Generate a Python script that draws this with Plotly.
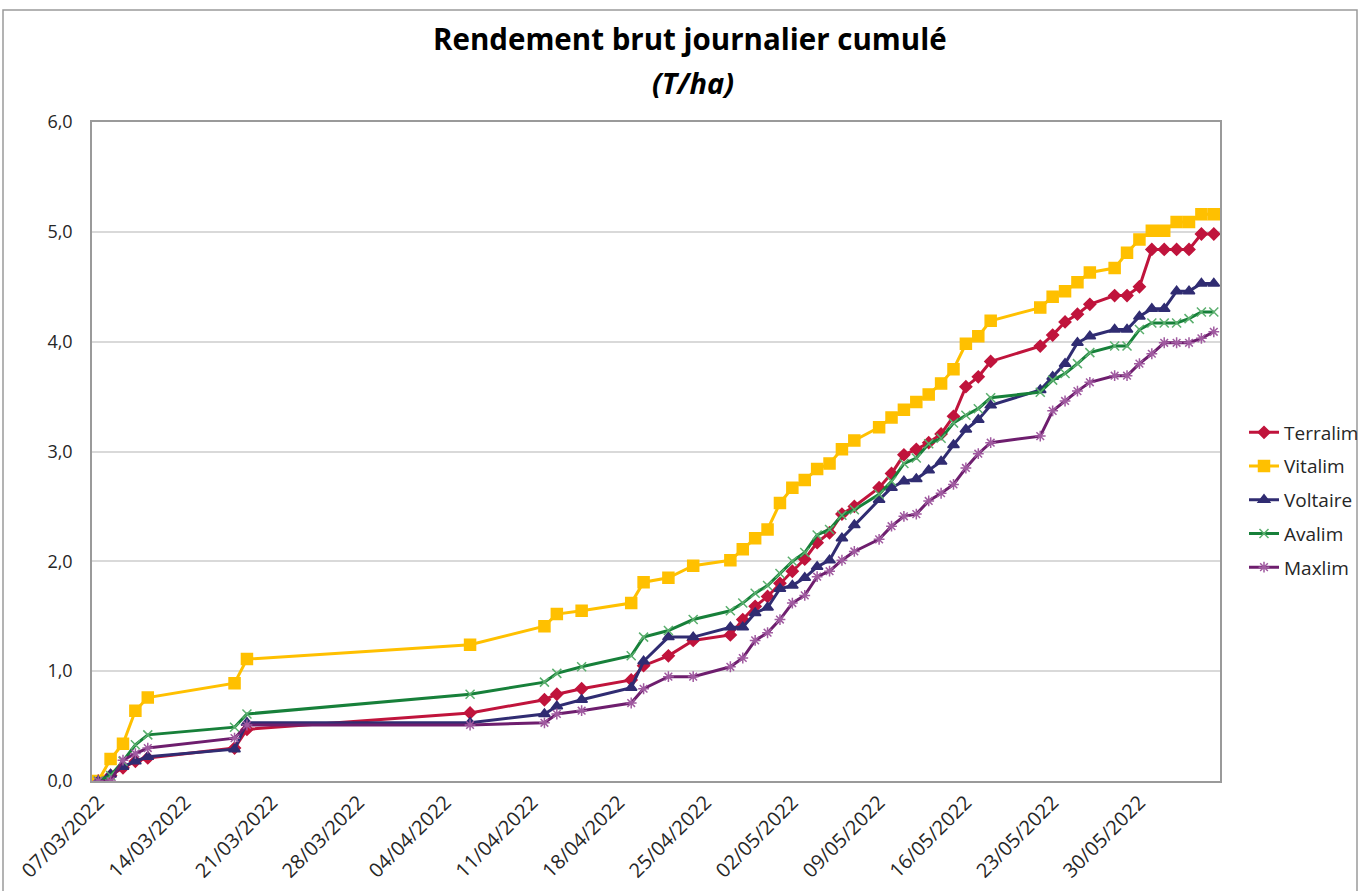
import plotly.graph_objects as go

dates = ["2022-03-07", "2022-03-08", "2022-03-09", "2022-03-10", "2022-03-11", "2022-03-18", "2022-03-19",
         "2022-04-06", "2022-04-12", "2022-04-13", "2022-04-15", "2022-04-19", "2022-04-20", "2022-04-22",
         "2022-04-24", "2022-04-27", "2022-04-28", "2022-04-29", "2022-04-30", "2022-05-01", "2022-05-02",
         "2022-05-03", "2022-05-04", "2022-05-05", "2022-05-06", "2022-05-07", "2022-05-09", "2022-05-10",
         "2022-05-11", "2022-05-12", "2022-05-13", "2022-05-14", "2022-05-15", "2022-05-16", "2022-05-17",
         "2022-05-18", "2022-05-22", "2022-05-23", "2022-05-24", "2022-05-25", "2022-05-26", "2022-05-28",
         "2022-05-29", "2022-05-30", "2022-05-31", "2022-06-01", "2022-06-02", "2022-06-03", "2022-06-04",
         "2022-06-05"]

terralim = [0, 0.05, 0.12, 0.18, 0.21, 0.30, 0.47, 0.62, 0.74, 0.79, 0.84, 0.92, 1.05, 1.14, 1.28,
            1.33, 1.47, 1.59, 1.68, 1.80, 1.91, 2.02, 2.17, 2.26, 2.43, 2.50, 2.67, 2.80, 2.97, 3.02,
            3.08, 3.16, 3.32, 3.59, 3.68, 3.82, 3.96, 4.06, 4.18, 4.25, 4.34, 4.42, 4.42, 4.50, 4.84,
            4.84, 4.84, 4.84, 4.98, 4.98]
vitalim = [0, 0.20, 0.34, 0.64, 0.76, 0.89, 1.11, 1.24, 1.41, 1.52, 1.55, 1.62, 1.81, 1.85, 1.96,
           2.01, 2.11, 2.21, 2.29, 2.53, 2.67, 2.74, 2.84, 2.89, 3.02, 3.10, 3.22, 3.31, 3.38, 3.45,
           3.52, 3.62, 3.75, 3.98, 4.05, 4.19, 4.31, 4.41, 4.46, 4.54, 4.63, 4.67, 4.81, 4.93, 5.01,
           5.01, 5.09, 5.09, 5.16, 5.16]
voltaire = [0, 0.06, 0.13, 0.18, 0.22, 0.29, 0.53, 0.53, 0.61, 0.68, 0.74, 0.85, 1.09, 1.31, 1.31,
            1.40, 1.40, 1.53, 1.58, 1.75, 1.78, 1.85, 1.95, 2.01, 2.21, 2.33, 2.56, 2.67, 2.73, 2.75,
            2.83, 2.91, 3.06, 3.20, 3.29, 3.42, 3.56, 3.68, 3.80, 3.99, 4.05, 4.11, 4.11, 4.23, 4.30,
            4.30, 4.46, 4.46, 4.53, 4.53]
avalim = [0, 0.05, 0.18, 0.33, 0.42, 0.49, 0.61, 0.79, 0.90, 0.98, 1.04, 1.14, 1.31, 1.37, 1.47,
          1.55, 1.62, 1.71, 1.78, 1.89, 2.00, 2.08, 2.24, 2.29, 2.42, 2.47, 2.61, 2.73, 2.89, 2.94,
          3.07, 3.12, 3.26, 3.33, 3.39, 3.49, 3.54, 3.65, 3.71, 3.80, 3.90, 3.96, 3.96, 4.11, 4.17,
          4.17, 4.17, 4.21, 4.27, 4.27]
maxlim = [0, 0, 0.19, 0.25, 0.30, 0.39, 0.51, 0.51, 0.53, 0.61, 0.64, 0.71, 0.84, 0.95, 0.95,
          1.04, 1.12, 1.28, 1.35, 1.47, 1.62, 1.69, 1.86, 1.91, 2.01, 2.09, 2.20, 2.32, 2.41, 2.43,
          2.55, 2.62, 2.70, 2.85, 2.98, 3.08, 3.14, 3.37, 3.46, 3.55, 3.63, 3.69, 3.69, 3.80, 3.89,
          3.99, 3.99, 3.99, 4.03, 4.09]

tick_dates = ["2022-03-07", "2022-03-14", "2022-03-21", "2022-03-28", "2022-04-04", "2022-04-11",
              "2022-04-18", "2022-04-25", "2022-05-02", "2022-05-09", "2022-05-16", "2022-05-23",
              "2022-05-30"]
tick_labels = ["07/03/2022", "14/03/2022", "21/03/2022", "28/03/2022", "04/04/2022", "11/04/2022",
               "18/04/2022", "25/04/2022", "02/05/2022", "09/05/2022", "16/05/2022", "23/05/2022",
               "30/05/2022"]

series = [
    ("Terralim", terralim, "#C0143C", "diamond", 9, "#C0143C"),
    ("Vitalim", vitalim, "#FFC000", "square", 11, "#FFC000"),
    ("Voltaire", voltaire, "#302C72", "triangle-up", 10, "#302C72"),
    ("Avalim", avalim, "#17803A", "x-thin-open", 9, "#5BAF6E"),
    ("Maxlim", maxlim, "#6E1E6E", "asterisk-open", 9, "#A05AA0"),
]

W, H = 1360, 891
L, R, T, B = 92, 140, 122, 110
PW, PH = W - L - R, H - T - B

fig = go.Figure()
for name, vals, color, symbol, size, mcolor in series:
    fig.add_trace(go.Scatter(
        x=dates, y=vals, name=name, legendgroup=name, mode="lines+markers",
        line=dict(color=color, width=3),
        marker=dict(symbol=symbol, size=size, color=mcolor,
                    line=dict(color=mcolor, width=1.5)),
    ))

fig.update_layout(
    width=W, height=H,
    paper_bgcolor="white", plot_bgcolor="white",
    font=dict(family="Open Sans", color="#262626"),
    separators=", ",
    margin=dict(l=L, r=R, t=T, b=B),
    legend=dict(
        xref="container", x=1244 / W, xanchor="left",
        y=(781 - 500) / PH, yanchor="middle",
        font=dict(family="Open Sans", size=19, color="#262626"),
        bgcolor="rgba(0,0,0,0)", tracegroupgap=6,
    ),
    annotations=[
        dict(text="<b>Rendement brut journalier cumulé</b>", xref="paper", yref="paper",
             x=(690 - L) / PW, y=(H - B - 39) / PH, xanchor="center", yanchor="middle",
             showarrow=False, font=dict(family="Open Sans", size=29.5, color="#000000")),
        dict(text="<b><i>(T/ha)</i></b>", xref="paper", yref="paper",
             x=(693 - L) / PW, y=(H - B - 82) / PH, xanchor="center", yanchor="middle",
             showarrow=False, font=dict(family="Open Sans", size=29, color="#000000")),
    ],
    shapes=[dict(type="rect", xref="paper", yref="paper",
                 x0=(3 - L) / PW, x1=(1357 - L) / PW,
                 y0=(H - B - 900) / PH, y1=(H - B - 10) / PH,
                 line=dict(color="#9a9a9a", width=1.5), layer="below")],
)
fig.update_xaxes(
    type="date", automargin=False,
    range=["2022-03-06 12:00", "2022-06-05 12:00"],
    tickvals=tick_dates, ticktext=tick_labels, tickangle=-45,
    tickfont=dict(size=20, color="#262626"),
    showgrid=False, showline=True, linecolor="#9a9a9a", linewidth=1.5, mirror=True,
    ticks="", zeroline=False,
)
fig.update_yaxes(
    range=[0, 6], dtick=1, tickformat=".1f", automargin=False,
    tickfont=dict(size=18, color="#262626"),
    showgrid=True, gridcolor="#d9d9d9", gridwidth=1.5,
    showline=True, linecolor="#9a9a9a", linewidth=1.5, mirror=True,
    ticks="", zeroline=False, ticklabelstandoff=14,
)

fig.write_html("out.html", config={"displayModeBar": False},
               post_script="document.body.style.margin='0';")
